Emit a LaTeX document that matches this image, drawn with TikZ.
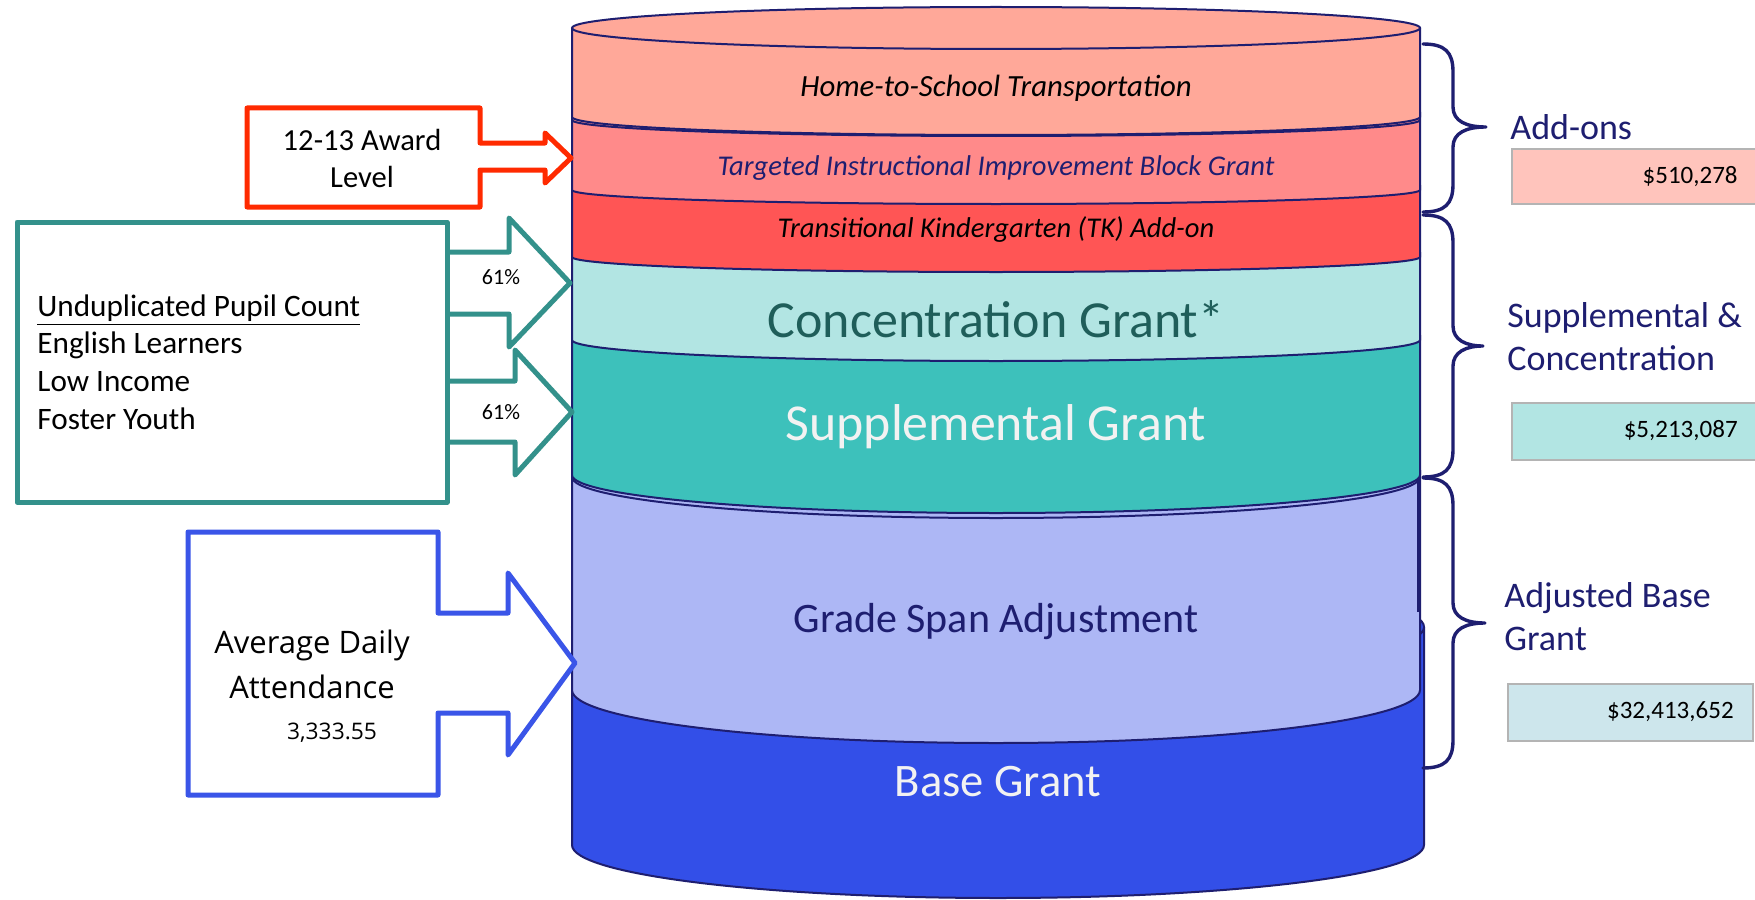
\documentclass[tikz,border=0pt]{standalone}
\usepackage{fontspec}
\setmainfont{Carlito}
\newfontfamily\adafont{Open Sans}

% palette
\definecolor{navy}{RGB}{30,30,112}
\definecolor{homefill}{RGB}{255,168,153}
\definecolor{tiigfill}{RGB}{255,138,138}
\definecolor{tkfill}{RGB}{255,85,85}
\definecolor{concfill}{RGB}{178,229,227}
\definecolor{suppfill}{RGB}{61,193,187}
\definecolor{gsafill}{RGB}{173,183,245}
\definecolor{basefill}{RGB}{51,79,232}
\definecolor{conctext}{RGB}{31,94,90}
\definecolor{softwhite}{RGB}{242,242,242}
\definecolor{awardred}{RGB}{255,42,0}
\definecolor{upcteal}{RGB}{51,145,139}
\definecolor{adablue}{RGB}{58,85,232}
\definecolor{valuegray}{RGB}{180,180,180}
\definecolor{addonfill}{RGB}{255,196,188}
\definecolor{scfill}{RGB}{178,229,227}
\definecolor{basevfill}{RGB}{205,230,236}

\tikzset{
  cylline/.style={draw=navy, line width=1pt},
  callout/.style={line width=2.5pt, line join=round, fill=white},
  bracepath/.style={draw=navy, line width=1.7pt, line cap=round, line join=round},
  grouplabel/.style={text=navy, font=\fontsize{18}{21.5}\selectfont, align=left, anchor=west, inner sep=0pt},
  valuebox/.style={draw=valuegray, line width=1pt},
  valuetext/.style={font=\fontsize{12.5}{15}\selectfont, anchor=east, inner sep=0pt},
  pct/.style={font=\fontsize{11}{13}\selectfont, inner sep=0pt},
}

% one band of the stacked cylinder: fill, top y, side bottom y, sag of the bottom rim
\newcommand{\cyllayer}[4]{%
  \fill[#1] (572,#2) -- (572,#3) arc[start angle=180,end angle=0,x radius=424,y radius=#4] -- (1420,#2) -- cycle;
  \draw[cylline] (572,#2) -- (572,#3) arc[start angle=180,end angle=0,x radius=424,y radius=#4] -- (1420,#2);
}

% curly brace from (1423,top) to (1423,bottom) with tip at (tipx,mid)
\newcommand{\groupbrace}[4]{%
  \draw[bracepath] (1423,#1) .. controls (1445,#1) and (1453,#1+8) .. (1453,#1+28)
    -- (1453,#2-20) .. controls (1453,#2-6) and (1466,#2) .. (#4,#2)
    .. controls (1466,#2) and (1453,#2+6) .. (1453,#2+20)
    -- (1453,#3-28) .. controls (1453,#3-8) and (1445,#3) .. (1423,#3);
}

\begin{document}
\begin{tikzpicture}[x=0.5pt,y=-0.5pt]
  \clip (0,0) rectangle (1755,899);
  \fill[white] (0,0) rectangle (1755,899);

  % ---------- stacked cylinder ----------
  % base grant: its own cylinder, slightly wider
  \fill[basefill] (572,627) -- (572,845) arc[start angle=180,end angle=0,x radius=426,y radius=53] -- (1424,627) -- cycle;
  \draw[cylline] (572,627) -- (572,845) arc[start angle=180,end angle=0,x radius=426,y radius=53] -- (1424,627);
  \filldraw[fill=basefill, cylline] (998,627) ellipse[x radius=426, y radius=53];

  % grade span adjustment
  \cyllayer{gsafill}{470}{690}{53}
  \draw[cylline] (572,477) arc[start angle=180,end angle=0,x radius=424,y radius=41];
  \draw[cylline] (1418,477) -- (1418,612);

  % supplemental, concentration, TK
  \cyllayer{suppfill}{335}{475}{38}
  \cyllayer{concfill}{252}{340}{21}
  \cyllayer{tkfill}{185}{257}{15}

  % TIIG
  \cyllayer{tiigfill}{112}{190}{14}
  \draw[cylline] (572,120) arc[start angle=180,end angle=0,x radius=424,y radius=16];

  % home-to-school with the lid
  \cyllayer{homefill}{28}{117}{18}
  \filldraw[fill=homefill, cylline] (996,28) ellipse[x radius=424, y radius=21];

  % band labels
  \node[inner sep=0pt, font=\itshape\fontsize{15.4}{18}\selectfont] (home) at (996,88) {Home-to-School Transportation};
  \node[inner sep=0pt, text=navy, font=\itshape\fontsize{14.3}{17}\selectfont] (tiig) at (996,168) {Targeted Instructional Improvement Block Grant};
  \node[inner sep=0pt, font=\itshape\fontsize{14.3}{17}\selectfont] (tk) at (996,230) {Transitional Kindergarten (TK) Add-on};
  \node[inner sep=0pt, text=conctext, font=\fontsize{26}{30}\selectfont] (conc) at (996,319) {Concentration Grant*};
  \node[inner sep=0pt, text=softwhite, font=\fontsize{25.9}{30}\selectfont] (supp) at (996,427) {Supplemental Grant};
  \node[inner sep=0pt, text=navy, font=\fontsize{21}{25}\selectfont] (gsa) at (996,622) {Grade Span Adjustment};
  \node[inner sep=0pt, text=softwhite, font=\fontsize{23.3}{27}\selectfont] (base) at (998,782) {Base Grant};

  % ---------- left inputs ----------
  % 12-13 award level callout
  \draw[callout, draw=awardred] (247,108) -- (480,108) -- (480,143) -- (545,143) -- (545,133)
    -- (571,158) -- (545,183) -- (545,170) -- (480,170) -- (480,207) -- (247,207) -- cycle;
  \node[inner sep=0pt, align=center, font=\fontsize{15.3}{18.5}\selectfont] (award) at (362,158) {12-13 Award\\Level};

  % unduplicated pupil count box and its two arrows
  \draw[callout, draw=upcteal] (447,252) -- (509,252) -- (509,218) -- (570,283) -- (509,347) -- (509,314) -- (447,314);
  \draw[callout, draw=upcteal] (447,381) -- (515,381) -- (515,350) -- (572,412) -- (515,475) -- (515,442) -- (447,442);
  \draw[line width=2.5pt, draw=upcteal, line join=round] (17,222) rectangle (447,502);
  \node[inner sep=0pt, align=left, anchor=west, font=\fontsize{15.6}{18.85}\selectfont] (upc) at (37,362)
    {\underline{Unduplicated Pupil Count}\\English Learners\\Low Income\\Foster Youth};
  \node[pct] (pctconc) at (501,277) {61\%};
  \node[pct] (pctsupp) at (501,412) {61\%};

  % average daily attendance callout
  \draw[callout, draw=adablue] (188,532) -- (438,532) -- (438,613) -- (508,613) -- (508,573)
    -- (575,663) -- (508,755) -- (508,713) -- (438,713) -- (438,795) -- (188,795) -- cycle;
  \node[inner sep=0pt, align=center, font=\adafont\fontsize{15.5}{22.5}\selectfont] (ada) at (312,664) {Average Daily\\Attendance};
  \node[inner sep=0pt, font=\adafont\fontsize{11.4}{13}\selectfont] (adaval) at (332,733) {3,333.55};

  % ---------- right groupings ----------
  \groupbrace{44}{127}{212}{1486}
  \groupbrace{215}{346}{477}{1483}
  \groupbrace{478}{623}{768}{1485}

  \node[grouplabel] (addons) at (1510,127) {Add-ons};
  \filldraw[valuebox, fill=addonfill] (1512,149) rectangle (1765,204);
  \node[valuetext] (addonsval) at (1738,177) {\$510,278};

  \node[grouplabel] (sc) at (1507,337) {Supplemental \&\\Concentration};
  \filldraw[valuebox, fill=scfill] (1512,403) rectangle (1765,460);
  \node[valuetext] (scval) at (1738,431) {\$5,213,087};

  \node[grouplabel] (abg) at (1504,617) {Adjusted Base\\Grant};
  \filldraw[valuebox, fill=basevfill] (1508,684) rectangle (1753,741);
  \node[valuetext] (abgval) at (1734,712) {\$32,413,652};
\end{tikzpicture}
\end{document}
